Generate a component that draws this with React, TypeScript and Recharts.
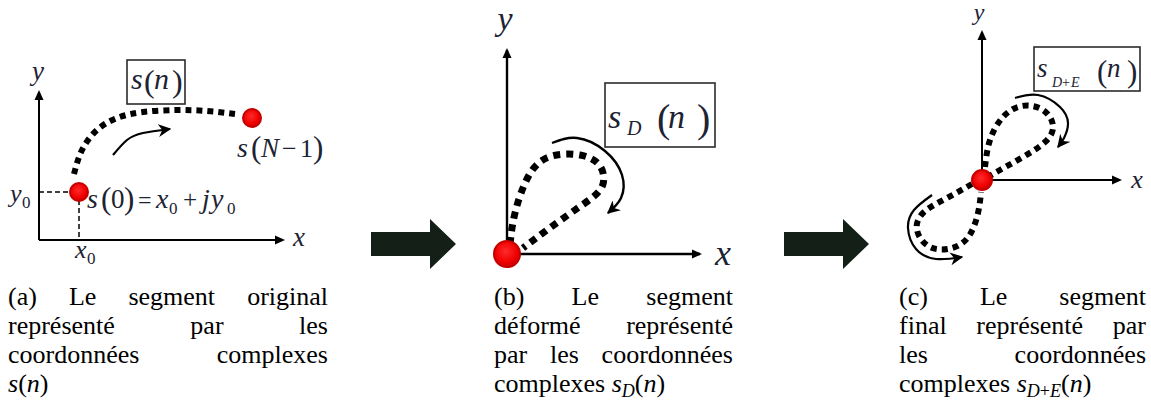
import React from 'react';
import { ComposedChart, Line, Scatter, XAxis, YAxis, ReferenceDot } from 'recharts';

type Pt = { x: number; y: number };
type Piece = [number, number, string, number, boolean?];

const SERIF = '"Liberation Serif", "Times New Roman", Times, serif';
const INK = '#1d2333';

// units in every panel: 1 unit = 10px, (0,0) is the corner of the axes

// (a) segment original
const axisAX: Pt[] = [{ x: 0, y: 0 }, { x: 24.4, y: 0 }];
const axisAY: Pt[] = [{ x: 0, y: 0 }, { x: 0, y: 14.8 }];
const segA: Pt[] = [
  { x: 3.5, y: 6.6 }, { x: 4.3, y: 9.0 }, { x: 5.8, y: 11.0 }, { x: 7.8, y: 12.2 },
  { x: 10.4, y: 12.8 }, { x: 13.8, y: 13.0 }, { x: 16.8, y: 12.9 }, { x: 19.6, y: 12.6 },
];
const turnA: Pt[] = [{ x: 7.4, y: 8.5 }, { x: 8.8, y: 10.0 }, { x: 10.4, y: 10.7 }, { x: 13.1, y: 11.1 }];
const guideAH: Pt[] = [{ x: 0, y: 4.8 }, { x: 4.0, y: 4.8 }];
const guideAV: Pt[] = [{ x: 4.0, y: 4.8 }, { x: 4.0, y: 0 }];
const endsA: Pt[] = [{ x: 4.0, y: 4.8 }, { x: 21.3, y: 12.2 }];

// (b) segment déformé
const axisBX: Pt[] = [{ x: 0, y: 0 }, { x: 19.3, y: 0 }];
const axisBY: Pt[] = [{ x: 0, y: 0 }, { x: 0, y: 20.4 }];
const segB: Pt[] = [
  { x: 0.3, y: 1.0 }, { x: 0.8, y: 4.1 }, { x: 2.1, y: 7.7 }, { x: 4.2, y: 9.7 },
  { x: 7.3, y: 9.9 }, { x: 9.3, y: 8.8 }, { x: 9.6, y: 7.0 }, { x: 8.6, y: 5.7 },
  { x: 6.8, y: 4.4 }, { x: 4.0, y: 2.4 }, { x: 1.6, y: 0.6 },
];
const turnB: Pt[] = [
  { x: 4.5, y: 11.1 }, { x: 7.0, y: 11.6 }, { x: 9.8, y: 10.3 },
  { x: 11.5, y: 7.9 }, { x: 11.4, y: 5.6 }, { x: 10.1, y: 4.1 },
];
const endsB: Pt[] = [{ x: 0, y: 0 }];

// (c) segment final
const axisCX: Pt[] = [{ x: 0, y: 0 }, { x: 13.8, y: 0 }];
const axisCY: Pt[] = [{ x: 0, y: 0 }, { x: 0, y: 14.8 }];
const segC1: Pt[] = [
  { x: 0.3, y: 1.3 }, { x: 0.8, y: 4.0 }, { x: 2.1, y: 6.3 }, { x: 4.0, y: 7.4 },
  { x: 6.1, y: 7.0 }, { x: 7.1, y: 5.4 }, { x: 6.3, y: 3.8 }, { x: 4.1, y: 2.3 },
  { x: 1.8, y: 1.0 }, { x: 0.6, y: 0.3 },
];
const segC2: Pt[] = [
  { x: -1.0, y: -0.4 }, { x: -3.5, y: -1.8 }, { x: -5.8, y: -3.2 }, { x: -6.5, y: -5.0 },
  { x: -5.2, y: -6.7 }, { x: -3.0, y: -6.8 }, { x: -1.3, y: -5.6 }, { x: -0.4, y: -3.3 },
  { x: -0.1, y: -1.2 },
];
const turnC1: Pt[] = [
  { x: 3.3, y: 8.2 }, { x: 5.6, y: 8.5 }, { x: 7.8, y: 7.3 },
  { x: 8.6, y: 5.7 }, { x: 8.2, y: 4.2 }, { x: 7.6, y: 3.3 },
];
const turnC2: Pt[] = [
  { x: -5.0, y: -1.5 }, { x: -6.8, y: -3.0 }, { x: -7.4, y: -4.8 },
  { x: -6.6, y: -6.9 }, { x: -4.6, y: -7.9 }, { x: -2.0, y: -7.7 },
];
const endsC: Pt[] = [{ x: 0, y: 0 }];

// block arrows between panels (x = tail of the arrow, in page px)
const blocks: Pt[] = [{ x: 371, y: 0 }, { x: 784, y: 0 }];

const captionA = ['(a) Le segment original', 'représenté par les', 'coordonnées complexes'];
const captionB = ['(b) Le segment', 'déformé représenté', 'par les coordonnées'];
const captionC = ['(c) Le segment', 'final représenté par', 'les coordonnées'];

const glyphs = (cx: number, cy: number, pieces: Piece[], anchor = 'start') =>
  pieces.map(([dx, dy, t, s, it], i) => (
    <text key={i} x={cx + dx} y={cy + dy} fontSize={s} fontStyle={it ? 'italic' : 'normal'}
      fontFamily={SERIF} fill={INK} textAnchor={anchor}>{t}</text>
  ));

const place = (key: string, at: Pt, draw: (cx: number, cy: number) => React.ReactNode) => (
  <ReferenceDot key={key} x={at.x} y={at.y} r={1} ifOverflow="visible"
    shape={(p: any) => <g>{draw(p.cx, p.cy)}</g>} />
);

const boxed = (w: number, h: number, pieces: Piece[]) => (cx: number, cy: number) => (
  <g>
    <rect x={cx - w / 2} y={cy - h / 2} width={w} height={h} fill="#fff" stroke="#2b2b2b" strokeWidth={1.6} />
    {glyphs(cx, cy, pieces)}
  </g>
);

const stroke = (key: string, data: Pt[], props: any) => (
  <Line key={key} data={data} dataKey="y" dot={false} activeDot={false} isAnimationActive={false}
    legendType="none" stroke="#000" {...props} />
);

const markers = (id: string) => (
  <defs>
    <marker id={`ax-${id}`} viewBox="0 0 10 10" refX="8" refY="5" markerWidth="11" markerHeight="10"
      markerUnits="userSpaceOnUse" orient="auto">
      <path d="M0,0.5 L10,5 L0,9.5 z" fill="#000" />
    </marker>
    <marker id={`tip-${id}`} viewBox="0 0 10 10" refX="9" refY="5" markerWidth="13" markerHeight="13"
      markerUnits="userSpaceOnUse" orient="auto">
      <path d="M0,0 L10,5 L0,10 L3,5 z" fill="#000" />
    </marker>
    <radialGradient id={`red-${id}`} cx="45%" cy="40%" r="60%">
      <stop offset="0%" stopColor="#ff2a2a" />
      <stop offset="70%" stopColor="#f00000" />
      <stop offset="100%" stopColor="#cc0000" />
    </radialGradient>
  </defs>
);

const redDots = (id: string, data: Pt[], r: number) => (
  <Scatter data={data} dataKey="y" isAnimationActive={false} legendType="none"
    shape={(p: any) => <circle cx={p.cx} cy={p.cy} r={r} fill={`url(#red-${id})`} stroke="#c40000" strokeWidth={2} />} />
);

const box = { position: 'absolute' as const };
const flat = { top: 0, right: 0, bottom: 0, left: 0 };

function PanelA() {
  return (
    <div style={{ ...box, left: 0, top: 40 }}>
      <ComposedChart width={345} height={245} margin={flat}>
        {markers('a')}
        <XAxis type="number" dataKey="x" domain={[-3.9, 30.6]} allowDataOverflow hide />
        <YAxis type="number" dataKey="y" domain={[-4.5, 20]} allowDataOverflow hide />
        {stroke('ax', axisAX, { type: 'linear', strokeWidth: 2, markerEnd: 'url(#ax-a)' })}
        {stroke('ay', axisAY, { type: 'linear', strokeWidth: 2, markerEnd: 'url(#ax-a)' })}
        {stroke('gh', guideAH, { type: 'linear', strokeWidth: 1.5, strokeDasharray: '5 3' })}
        {stroke('gv', guideAV, { type: 'linear', strokeWidth: 1.5, strokeDasharray: '5 3' })}
        {stroke('seg', segA, { type: 'natural', strokeWidth: 6, strokeDasharray: '6 5' })}
        {stroke('turn', turnA, { type: 'natural', strokeWidth: 2.2, markerEnd: 'url(#tip-a)' })}
        {redDots('a', endsA, 9)}
        {place('y', { x: -0.1, y: 16.0 }, (cx, cy) => glyphs(cx, cy, [[0, 0, 'y', 27, true]], 'middle'))}
        {place('x', { x: 26.0, y: -0.6 }, (cx, cy) => glyphs(cx, cy, [[0, 0, 'x', 27, true]], 'middle'))}
        {place('y0', { x: -2.9, y: 3.8 }, (cx, cy) => glyphs(cx, cy, [[0, 0, 'y', 26, true], [12, 6, '0', 17]]))}
        {place('x0', { x: 3.6, y: -1.8 }, (cx, cy) => glyphs(cx, cy, [[0, 0, 'x', 26, true], [12, 6, '0', 17]]))}
        {place('s0', { x: 4.8, y: 3.2 }, (cx, cy) => glyphs(cx, cy, [
          [0, 0, 's', 28, true], [14, 1, '(', 31], [24, 0, '0', 27], [37, 1, ')', 31],
          [51, 0, '=', 24], [69, 0, 'x', 28, true], [82, 6, '0', 17], [96, 0, '+', 25],
          [115, 0, 'j', 28, true], [124, 0, 'y', 28, true], [140, 6, '0', 17],
        ]))}
        {place('sN', { x: 19.8, y: 8.3 }, (cx, cy) => glyphs(cx, cy, [
          [0, 0, 's', 28, true], [14, 1, '(', 31], [24, 0, 'N', 27, true], [45, 0, '\u2212', 26],
          [63, 0, '1', 26], [76, 1, ')', 31],
        ]))}
        {place('box', { x: 11.7, y: 15.8 }, boxed(58, 44, [
          [-25, 7, 's', 30, true], [-12, 10, '(', 32], [-2, 7, 'n', 30, true], [16, 10, ')', 32],
        ]))}
      </ComposedChart>
    </div>
  );
}

function PanelB() {
  return (
    <div style={{ ...box, left: 460, top: 0 }}>
      <ComposedChart width={290} height={285} margin={flat}>
        {markers('b')}
        <XAxis type="number" dataKey="x" domain={[-4.7, 24.3]} allowDataOverflow hide />
        <YAxis type="number" dataKey="y" domain={[-3.1, 25.4]} allowDataOverflow hide />
        {stroke('ax', axisBX, { type: 'linear', strokeWidth: 2.4, markerEnd: 'url(#ax-b)' })}
        {stroke('ay', axisBY, { type: 'linear', strokeWidth: 2.4, markerEnd: 'url(#ax-b)' })}
        {stroke('seg', segB, { type: 'natural', strokeWidth: 7, strokeDasharray: '7 6' })}
        {stroke('turn', turnB, { type: 'natural', strokeWidth: 2.4, markerEnd: 'url(#tip-b)' })}
        {redDots('b', endsB, 13)}
        {place('y', { x: -0.2, y: 22.4 }, (cx, cy) => glyphs(cx, cy, [[0, 0, 'y', 34, true]], 'middle'))}
        {place('x', { x: 21.6, y: -1.1 }, (cx, cy) => glyphs(cx, cy, [[0, 0, 'x', 36, true]], 'middle'))}
        {place('box', { x: 15.3, y: 13.9 }, boxed(110, 64, [
          [-52, 13, 's', 34, true], [-33, 20, 'D', 20, true], [-3, 17, '(', 40],
          [8, 13, 'n', 34, true], [37, 17, ')', 40],
        ]))}
      </ComposedChart>
    </div>
  );
}

function PanelC() {
  return (
    <div style={{ ...box, left: 870, top: 0 }}>
      <ComposedChart width={281} height={285} margin={flat}>
        {markers('c')}
        <XAxis type="number" dataKey="x" domain={[-11.2, 16.9]} allowDataOverflow hide />
        <YAxis type="number" dataKey="y" domain={[-10.5, 18]} allowDataOverflow hide />
        {stroke('ax', axisCX, { type: 'linear', strokeWidth: 2, markerEnd: 'url(#ax-c)' })}
        {stroke('ay', axisCY, { type: 'linear', strokeWidth: 2, markerEnd: 'url(#ax-c)' })}
        {stroke('seg1', segC1, { type: 'natural', strokeWidth: 6, strokeDasharray: '6 5' })}
        {stroke('seg2', segC2, { type: 'natural', strokeWidth: 6, strokeDasharray: '6 5' })}
        {stroke('turn1', turnC1, { type: 'natural', strokeWidth: 2.2, markerEnd: 'url(#tip-c)' })}
        {stroke('turn2', turnC2, { type: 'natural', strokeWidth: 2.2, markerEnd: 'url(#tip-c)' })}
        {redDots('c', endsC, 10)}
        {place('y', { x: -0.3, y: 16.0 }, (cx, cy) => glyphs(cx, cy, [[0, 0, 'y', 24, true]], 'middle'))}
        {place('x', { x: 15.5, y: -0.8 }, (cx, cy) => glyphs(cx, cy, [[0, 0, 'x', 26, true]], 'middle'))}
        {place('box', { x: 10.5, y: 11.1 }, boxed(106, 44, [
          [-50, 8, 's', 27, true], [-35, 18, 'D', 14, true], [-25, 18, '+', 14], [-16, 18, 'E', 14, true],
          [10, 13, '(', 31], [20, 8, 'n', 27, true], [40, 13, ')', 31],
        ]))}
      </ComposedChart>
    </div>
  );
}

function Blocks() {
  return (
    <div style={{ ...box, left: 340, top: 200 }}>
      <ComposedChart width={560} height={90} margin={flat}>
        <XAxis type="number" dataKey="x" domain={[340, 900]} allowDataOverflow hide />
        <YAxis type="number" dataKey="y" domain={[-46, 44]} allowDataOverflow hide />
        <Scatter data={blocks} dataKey="y" isAnimationActive={false} legendType="none"
          shape={(p: any) => {
            const { cx, cy } = p;
            const pts = [
              [cx, cy - 12], [cx + 59, cy - 12], [cx + 59, cy - 25], [cx + 85, cy],
              [cx + 59, cy + 25], [cx + 59, cy + 12], [cx, cy + 12],
            ].map((q) => q.join(',')).join(' ');
            return <polygon points={pts} fill="#131f17" />;
          }} />
      </ComposedChart>
    </div>
  );
}

const mathS = (sub?: React.ReactNode) => (
  <span>
    <i>s</i>
    {sub && <span style={{ fontSize: 18, position: 'relative', top: 5 }}>{sub}</span>}
    (<i>n</i>)
  </span>
);

function Caption({ left, width, lines, last }: { left: number; width: number; lines: string[]; last: React.ReactNode }) {
  return (
    <div style={{ ...box, left, top: 281.6, width, fontFamily: SERIF, fontSize: 26, lineHeight: '29.3px', color: '#000' }}>
      {lines.map((l, i) => (
        <div key={i} style={{ textAlign: 'justify', textAlignLast: 'justify' }}>{l}</div>
      ))}
      <div style={{ textAlign: 'left', whiteSpace: 'nowrap' }}>{last}</div>
    </div>
  );
}

export default function App() {
  return (
    <div style={{ position: 'absolute', left: 0, top: 0, width: 1151, height: 408, background: '#fff', overflow: 'hidden' }}>
      <PanelA />
      <PanelB />
      <PanelC />
      <Blocks />
      <Caption left={8} width={320} lines={captionA} last={mathS()} />
      <Caption left={494} width={239} lines={captionB} last={<span>complexes {mathS(<i>D</i>)}</span>} />
      <Caption left={899} width={247} lines={captionC} last={<span>complexes {mathS(<span><i>D</i>+<i>E</i></span>)}</span>} />
    </div>
  );
}
